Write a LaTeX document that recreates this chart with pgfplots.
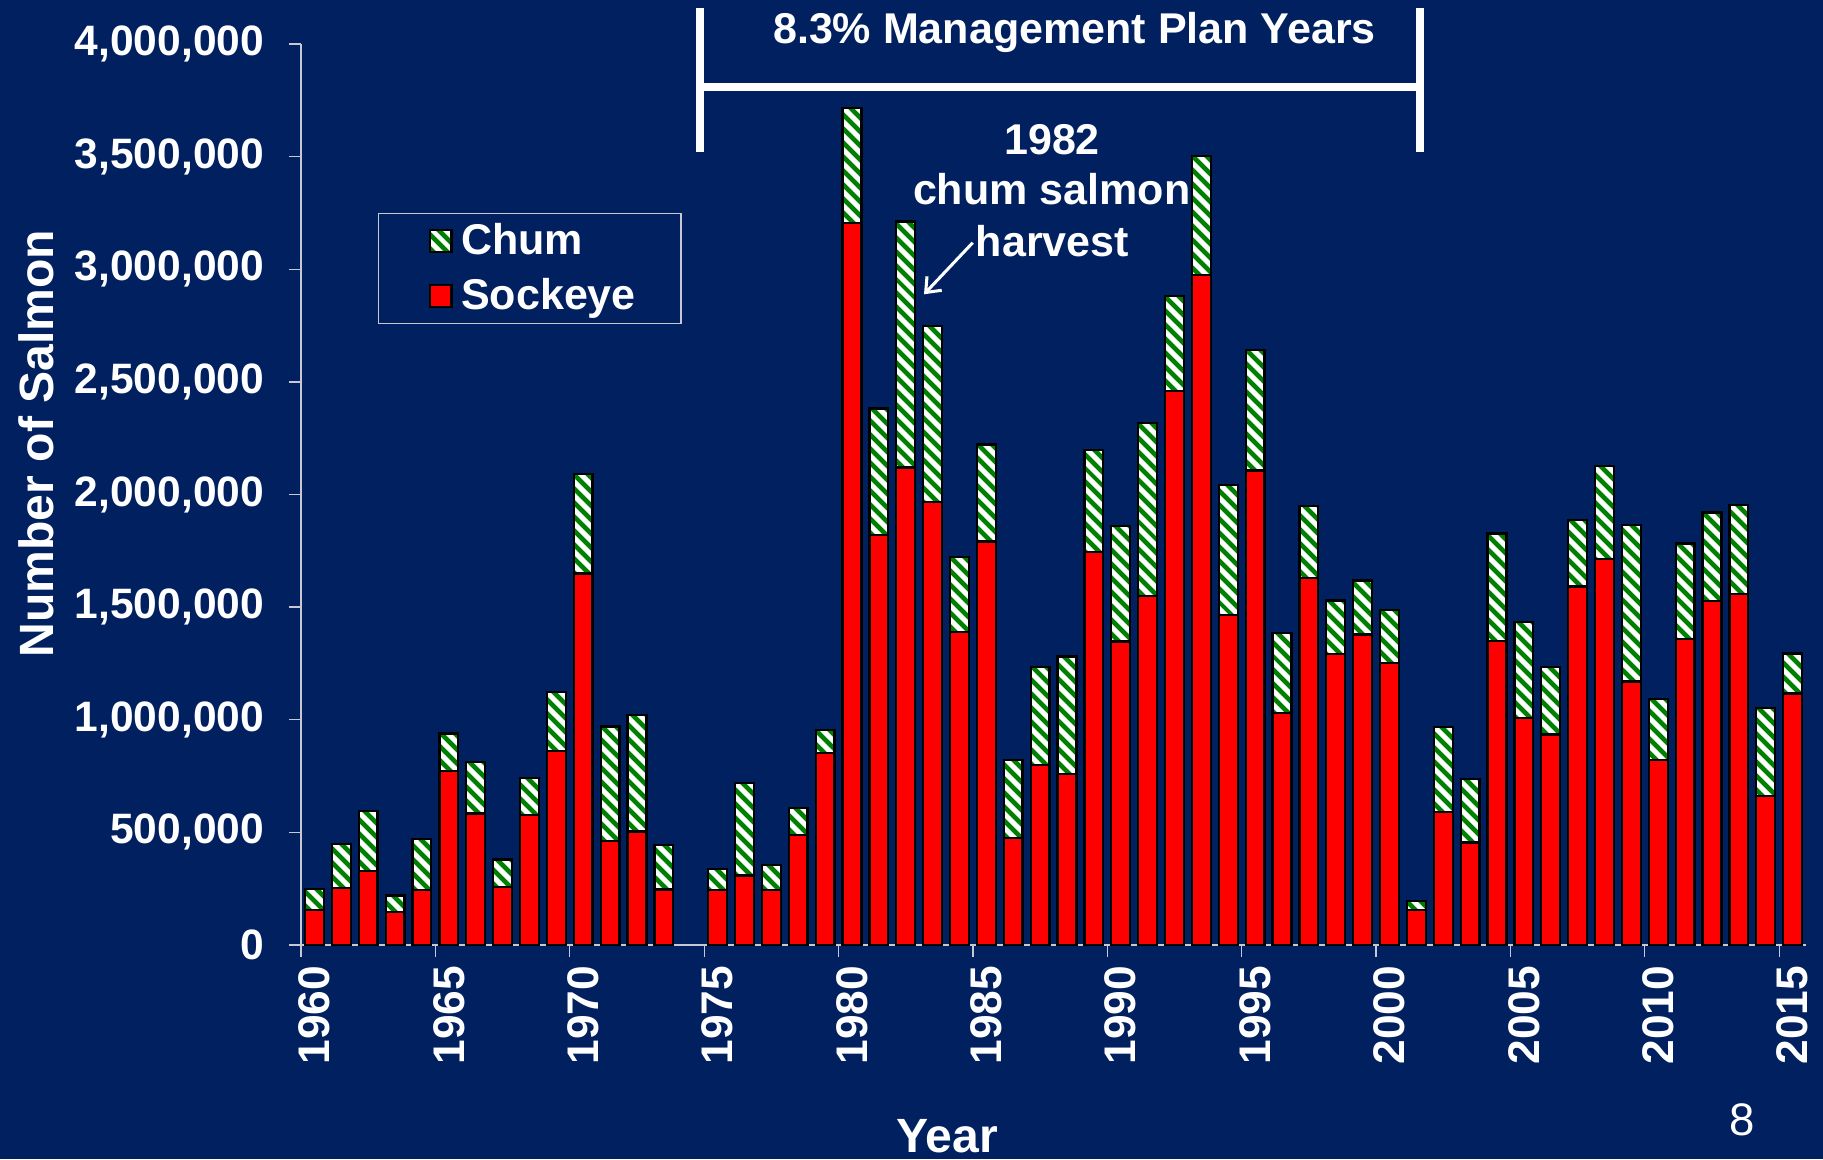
\documentclass[border=0pt]{standalone}
\usepackage{pgfplots}
\pgfplotsset{compat=1.18}
\usepackage{fontspec}
\setmainfont{Liberation Sans}
\usetikzlibrary{patterns.meta, arrows.meta}
\definecolor{navy}{RGB}{0,32,96}
\definecolor{chumgreen}{RGB}{0,128,0}
\definecolor{axisgray}{RGB}{200,200,212}
\begin{document}
\begin{tikzpicture}[x=0.395bp, y=0.395bp]
\fill[navy] (0,0) rectangle (1823,1159);
\path[use as bounding box] (0,0) rectangle (1823,1159);
\begin{axis}[
  at={(118.9bp,84.53bp)}, anchor=south west,
  scale only axis, width=594.5bp, height=355.9bp,
  xmin=1959.5, xmax=2015.5, ymin=0, ymax=4000000,
  ybar stacked, bar width=0.7,
  axis lines*=left,
  axis line style={axisgray, line width=0.5bp},
  tick align=outside, major tick length=4.8bp,
  tick style={axisgray, line width=0.5bp},
  xtick={1959.5,1964.5,1969.5,1974.5,1979.5,1984.5,1989.5,1994.5,1999.5,2004.5,2009.5,2014.5},
  xticklabels={1960,1965,1970,1975,1980,1985,1990,1995,2000,2005,2010,2015},
  ytick={0,500000,1000000,1500000,2000000,2500000,3000000,3500000,4000000},
  scaled y ticks=false,
  xticklabel style={font=\fontsize{17.5bp}{21bp}\selectfont\bfseries, text=white, xshift=5.3bp, rotate=90, anchor=east},
  yticklabel style={font=\fontsize{16.8bp}{20bp}\selectfont\bfseries, text=white, xshift=-6.3bp, /pgf/number format/fixed, /pgf/number format/1000 sep={,}, /pgf/number format/assume math mode=true},
  ylabel={Number of Salmon}, xlabel={Year},
  every axis y label/.style={at={(axis description cs:-0.1646,0.5566)}, rotate=90, anchor=base, text=white, font=\fontsize{19bp}{22bp}\selectfont\bfseries},
  every axis x label/.style={at={(axis description cs:0.4292,-0.2298)}, anchor=base, text=white, font=\fontsize{19bp}{22bp}\selectfont\bfseries},
  reverse legend,
  legend cell align=left,
  legend image code/.code={\path (0bp,0bp) (14bp,0bp); \draw[#1, line width=0.9bp] (4.05bp,-4.3bp) rectangle (12.65bp,4.3bp);},
  legend style={at={(0.051,0.8128)}, anchor=north west, fill=navy, draw=axisgray, line width=0.5bp, text=white, font=\fontsize{17bp}{20bp}\selectfont\bfseries, inner xsep=15.8bp, inner ysep=2bp, row sep=4bp},
  clip=false,
]
\addplot[fill=red, draw=black, line width=0.9bp] coordinates {
(1960,155000) (1961,254000) (1962,328000) (1963,147000) (1964,244000)
(1965,774000) (1966,584000) (1967,257000) (1968,576000) (1969,860000)
(1970,1649000) (1971,463000) (1972,504000) (1973,246000)
(1975,244000) (1976,309000) (1977,244000) (1978,488000) (1979,852000)
(1980,3204000) (1981,1821000) (1982,2120000) (1983,1966000) (1984,1390000)
(1985,1791000) (1986,476000) (1987,800000) (1988,760000) (1989,1744000)
(1990,1348000) (1991,1549000) (1992,2459000) (1993,2974000) (1994,1465000)
(1995,2106000) (1996,1029000) (1997,1628000) (1998,1291000) (1999,1379000)
(2000,1251000) (2001,156000) (2002,590000) (2003,455000) (2004,1349000)
(2005,1007000) (2006,934000) (2007,1592000) (2008,1714000) (2009,1170000)
(2010,821000) (2011,1360000) (2012,1528000) (2013,1559000) (2014,663000)
(2015,1116000)
};
\addlegendentry{Sockeye}
\addplot[draw=black, line width=0.9bp, preaction={fill=white}, pattern={Lines[angle=-45,distance=3.9bp,line width=1.9bp]}, pattern color=chumgreen] coordinates {
(1960,95000) (1961,193000) (1962,268000) (1963,73000) (1964,227000)
(1965,165000) (1966,229000) (1967,122000) (1968,165000) (1969,263000)
(1970,441000) (1971,507000) (1972,516000) (1973,198000)
(1975,95000) (1976,409000) (1977,112000) (1978,120000) (1979,102000)
(1980,511000) (1981,561000) (1982,1092000) (1983,782000) (1984,332000)
(1985,431000) (1986,344000) (1987,433000) (1988,521000) (1989,454000)
(1990,513000) (1991,770000) (1992,422000) (1993,530000) (1994,576000)
(1995,534000) (1996,357000) (1997,320000) (1998,239000) (1999,239000)
(2000,237000) (2001,39000) (2002,378000) (2003,281000) (2004,478000)
(2005,426000) (2006,300000) (2007,296000) (2008,411000) (2009,695000)
(2010,270000) (2011,422000) (2012,392000) (2013,394000) (2014,388000)
(2015,178000)
};
\addlegendentry{Chum}
\end{axis}
% title and bracket
\node[anchor=base, text=white, font=\fontsize{17bp}{20bp}\selectfont\bfseries, inner sep=0pt] at (1074.5,1115.7) {8.3\% Management Plan Years};
\draw[white, line width=3.16bp] (700,1150.7) -- (700,1007.3);
\draw[white, line width=3.16bp] (1420,1150.7) -- (1420,1007.3);
\draw[white, line width=3.16bp] (700,1071.5) -- (1420,1071.5);
% annotation
\node[anchor=base, text=white, font=\fontsize{17bp}{20bp}\selectfont\bfseries, inner sep=0pt] at (1052,1004) {1982};
\node[anchor=base, text=white, font=\fontsize{17bp}{20bp}\selectfont\bfseries, inner sep=0pt] at (1051.7,954) {chum salmon};
\node[anchor=base, text=white, font=\fontsize{17bp}{20bp}\selectfont\bfseries, inner sep=0pt] at (1052.5,902.3) {harvest};
\draw[white, line width=1.2bp, -{Straight Barb[length=5bp,width=8bp]}] (972.7,916.3) -- (924,864.7);
% page number
\node[anchor=base, text=white, font=\fontsize{18bp}{20bp}\selectfont, inner sep=0pt] at (1742.5,23.3) {8};
\end{tikzpicture}
\end{document}
